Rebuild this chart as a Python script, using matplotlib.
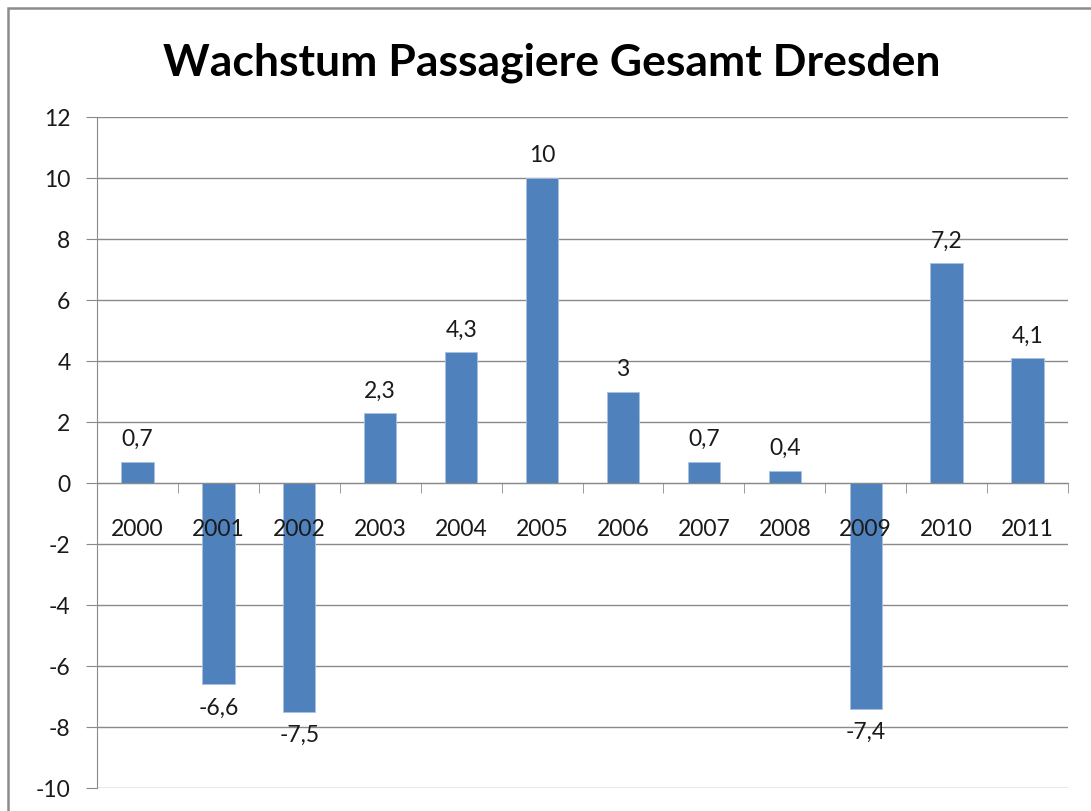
import matplotlib
matplotlib.use("Agg")
import matplotlib.pyplot as plt
from matplotlib.patches import Rectangle
import numpy as np

years = ["2000", "2001", "2002", "2003", "2004", "2005", "2006", "2007", "2008", "2009", "2010", "2011"]
growth = [0.7, -6.6, -7.5, 2.3, 4.3, 10, 3, 0.7, 0.4, -7.4, 7.2, 4.1]
y_ticks = [12, 10, 8, 6, 4, 2, 0, -2, -4, -6, -8, -10]
title = "Wachstum Passagiere Gesamt Dresden"

plt.rcParams["font.family"] = ["Lato", "DejaVu Sans"]

fig = plt.figure(figsize=(10.91, 8.12), dpi=100)
fig.patch.set_facecolor("white")

# outer chart frame
fig.add_artist(Rectangle((8 / 1091, -0.1), 1.2, (812 - 9) / 812 + 0.1,
                         transform=fig.transFigure, fill=False,
                         edgecolor="#8c8c8c", linewidth=1.8))

ax = fig.add_axes([97 / 1091, (812 - 789) / 812, (1068 - 97) / 1091, (789 - 118) / 812])
x = np.arange(len(years))
bars = ax.bar(x, growth, width=0.4, color="#4F81BD", edgecolor="#a9c1e0",
              linewidth=0.6, zorder=3)

FS = 16.5
ax.set_xlim(-0.5, len(years) - 0.5)
ax.set_ylim(-10, 12)
ax.set_yticks(y_ticks)
ax.set_yticklabels([str(t) for t in y_ticks], fontsize=FS, color="#1a1a1a")
ax.yaxis.grid(True, color="#8a8a8a", linewidth=1.0, zorder=0)
ax.set_axisbelow(True)

for s in ["top", "right"]:
    ax.spines[s].set_visible(False)
ax.spines["left"].set_color("#8a8a8a")
ax.spines["bottom"].set_position(("data", 0))
ax.spines["bottom"].set_color("#8a8a8a")
ax.spines["bottom"].set_zorder(4)

ax.tick_params(axis="y", length=8, color="#8a8a8a", pad=11)
ax.set_xticks(x)
ax.set_xticklabels(years, fontsize=FS, color="#1a1a1a")
ax.tick_params(axis="x", which="major", length=0, pad=25)
ax.set_xticks(np.arange(len(years) + 1) - 0.5, minor=True)
ax.tick_params(axis="x", which="minor", length=7, color="#8a8a8a", direction="out")
ax.xaxis.set_zorder(5)

def fmt(v):
    return ("%g" % v).replace(".", ",")

for xi, v in zip(x, growth):
    if v >= 0:
        ax.annotate(fmt(v), (xi, v), xytext=(0, 9), textcoords="offset points",
                    ha="center", va="bottom", fontsize=FS, color="#1a1a1a")
    else:
        ax.annotate(fmt(v), (xi, v), xytext=(0, -9), textcoords="offset points",
                    ha="center", va="top", fontsize=FS, color="#1a1a1a")

fig.text(552 / 1091, 1 - 63 / 812, title, ha="center", va="center",
         fontsize=32, fontweight="bold", color="black")

fig.savefig("out.png", dpi=100)
